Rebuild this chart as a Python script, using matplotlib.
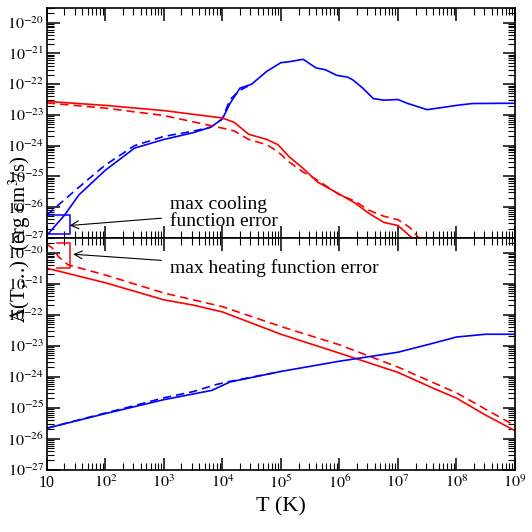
import numpy as np
import matplotlib
matplotlib.use("Agg")
import matplotlib.pyplot as plt
from matplotlib.ticker import LogLocator, NullFormatter, FuncFormatter

plt.rcParams['font.family'] = ['Liberation Serif', 'DejaVu Serif']
plt.rcParams['mathtext.fontset'] = 'stix'

# log10 T and log10 Lambda values
top_cool_solid_x = [1, 1.3, 1.55, 2, 2.5, 3, 3.5, 3.8, 4, 4.13, 4.3, 4.5, 4.76, 5, 5.14, 5.38, 5.6, 5.76, 5.95, 6.14, 6.23, 6.4, 6.58, 6.76, 7, 7.17, 7.5, 8, 8.27, 9]
top_cool_solid_y = [-26.92, -26.27, -25.6, -24.8, -24.08, -23.8, -23.58, -23.4, -23.13, -22.63, -22.13, -22.0, -21.58, -21.3, -21.27, -21.19, -21.47, -21.53, -21.71, -21.77, -21.86, -22.13, -22.47, -22.52, -22.5, -22.63, -22.83, -22.69, -22.63, -22.62]
top_cool_dash_x = [1, 1.55, 2, 2.5, 3, 3.5, 3.8, 4, 4.13, 4.3, 4.5]
top_cool_dash_y = [-26.26, -25.35, -24.63, -24.0, -23.7, -23.53, -23.4, -23.13, -22.5, -22.2, -22.0]
top_heat_solid_x = [1, 2, 3, 4, 4.2, 4.45, 4.76, 4.95, 5.14, 5.38, 5.63, 6.0, 6.26, 6.5, 6.76, 7.0, 7.3]
top_heat_solid_y = [-22.56, -22.69, -22.86, -23.1, -23.24, -23.63, -23.8, -23.97, -24.36, -24.74, -25.19, -25.58, -25.86, -26.2, -26.5, -26.6, -27.1]
top_heat_dash_x = [1, 2, 3, 4, 4.2, 4.45, 4.76, 4.95, 5.14, 5.38, 5.63, 6.0, 6.26, 6.5, 6.76, 7.0, 7.2, 7.4]
top_heat_dash_y = [-22.61, -22.78, -23.02, -23.43, -23.52, -23.8, -23.97, -24.2, -24.53, -24.86, -25.13, -25.6, -25.8, -26.1, -26.3, -26.41, -26.66, -27.1]

bot_heat_solid_x = [1, 2, 3, 3.5, 4, 5, 6, 7, 7.65, 8, 8.5, 9]
bot_heat_solid_y = [-20.5, -20.97, -21.52, -21.69, -21.91, -22.63, -23.24, -23.86, -24.41, -24.69, -25.24, -25.74]
bot_heat_dash_x = [1, 1.1, 1.2, 1.36, 2, 3, 4, 5, 6, 7, 8, 9]
bot_heat_dash_y = [-19.72, -19.86, -20.13, -20.39, -20.72, -21.3, -21.74, -22.38, -22.97, -23.69, -24.52, -25.58]
bot_cool_solid_x = [1, 2, 3, 3.82, 4.13, 5, 6, 7, 7.5, 8, 8.5, 9]
bot_cool_solid_y = [-25.66, -25.19, -24.74, -24.44, -24.17, -23.83, -23.5, -23.21, -22.97, -22.72, -22.63, -22.63]
bot_cool_dash_x = [1, 2, 2.5, 3, 3.5, 3.9, 4.13, 5]
bot_cool_dash_y = [-25.66, -25.17, -24.93, -24.68, -24.48, -24.25, -24.15, -23.83]

fig = plt.figure(figsize=(5.32, 5.32), dpi=100)
ax1 = fig.add_axes([0.088, 0.553, 0.88, 0.432])
ax2 = fig.add_axes([0.088, 0.117, 0.88, 0.436], sharex=ax1)

def p(ax, x, y, c, ls):
    ax.plot(10**np.array(x), 10**np.array(y), color=c, ls=ls, lw=1.2)

p(ax1, top_cool_solid_x, top_cool_solid_y, 'blue', '-')
p(ax1, top_cool_dash_x, top_cool_dash_y, 'blue', (0, (5, 3)))
p(ax1, top_heat_solid_x, top_heat_solid_y, 'red', '-')
p(ax1, top_heat_dash_x, top_heat_dash_y, 'red', (0, (5, 3)))
p(ax2, bot_heat_solid_x, bot_heat_solid_y, 'red', '-')
p(ax2, bot_heat_dash_x, bot_heat_dash_y, 'red', (0, (5, 3)))
p(ax2, bot_cool_solid_x, bot_cool_solid_y, 'blue', '-')
p(ax2, bot_cool_dash_x, bot_cool_dash_y, 'blue', (0, (5, 3)))

def fmt(v, pos):
    e = int(round(np.log10(v)))
    return '10' if e == 1 else r'$\mathrm{10^{%d}}$' % e

for ax in (ax1, ax2):
    ax.set_xscale('log'); ax.set_yscale('log')
    ax.set_xlim(10, 1e9); ax.set_ylim(1e-27, 10**-19.52)
    ax.xaxis.set_major_locator(LogLocator(10, numticks=20))
    ax.xaxis.set_minor_locator(LogLocator(10, subs=np.arange(2, 10), numticks=20))
    ax.yaxis.set_major_locator(LogLocator(10, numticks=20))
    ax.yaxis.set_minor_locator(LogLocator(10, subs=np.arange(2, 10), numticks=20))
    ax.yaxis.set_minor_formatter(NullFormatter())
    ax.xaxis.set_minor_formatter(NullFormatter())
    ax.yaxis.set_major_formatter(FuncFormatter(fmt))
    ax.xaxis.set_major_formatter(FuncFormatter(fmt))
    ax.tick_params(which='both', direction='in', top=True, right=True, labelsize=11.5)
    ax.tick_params(axis='y', pad=2)
    ax.tick_params(which='major', length=9, width=1.1)
    ax.tick_params(which='minor', length=5, width=0.8)
    for s in ax.spines.values():
        s.set_linewidth(1.2)
plt.setp(ax1.get_xticklabels(), visible=False)

ax1.plot([10, 10**1.39, 10**1.39, 10], [10**-26.26, 10**-26.26, 10**-26.86, 10**-26.86], color='blue', lw=1.1)
ax1.annotate('max cooling\nfunction error', xy=(10**1.39, 10**-26.6), xytext=(10**3.1, 10**-26.2),
             fontsize=14, va='center', ha='left', linespacing=1.0,
             arrowprops=dict(arrowstyle='->', color='black', lw=0.8, shrinkB=0, shrinkA=4))
ax2.plot([10**1.17, 10**1.39, 10**1.39, 10**1.17], [10**-19.69, 10**-19.69, 10**-20.5, 10**-20.5], color='red', lw=1.1)
ax2.annotate('max heating function error', xy=(10**1.45, 10**-20.05), xytext=(10**3.1, 10**-20.5),
             fontsize=14, va='center', ha='left',
             arrowprops=dict(arrowstyle='->', color='black', lw=0.8, shrinkB=0, shrinkA=4))

ax2.set_xlabel('T (K)', fontsize=16)
fig.text(0.012, 0.55, r'$\Lambda$(T,...)  (erg cm$^3$/s)', rotation=90, fontsize=15, va='center', ha='left')
fig.savefig('out.png', dpi=100)
